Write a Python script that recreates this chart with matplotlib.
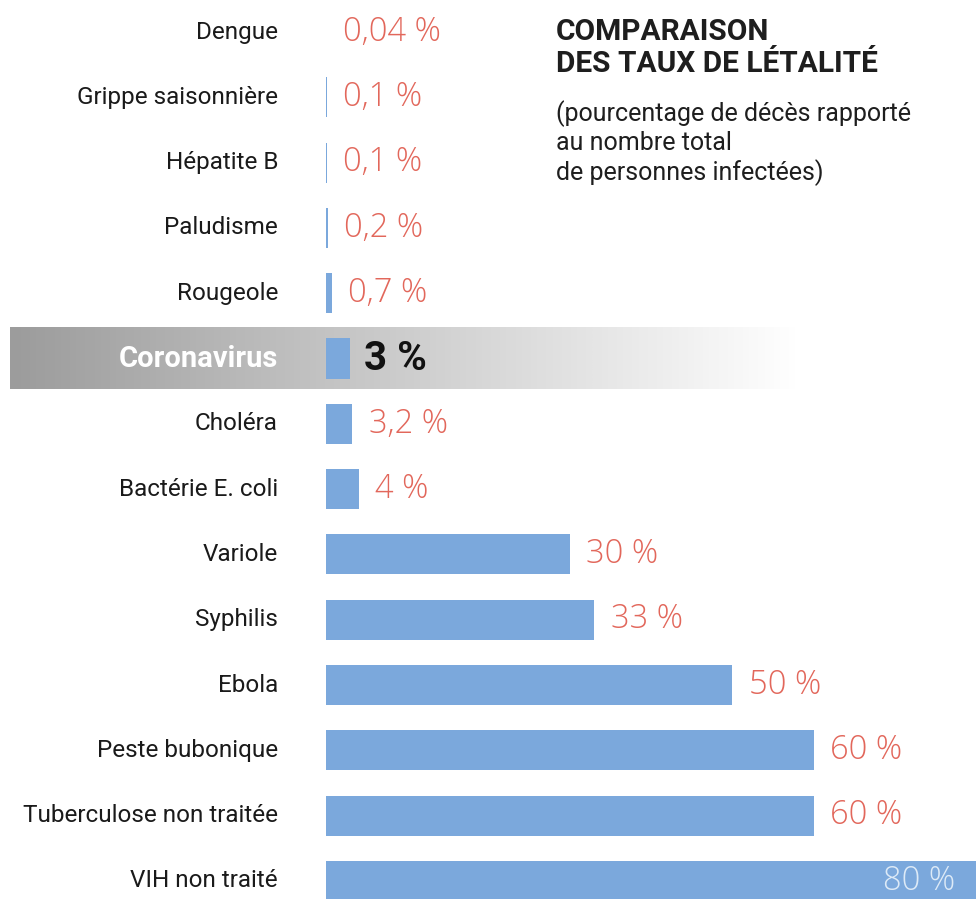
import numpy as np
import matplotlib.pyplot as plt
from matplotlib import font_manager
import matplotlib.transforms as mtransforms
from matplotlib.colors import LinearSegmentedColormap

# --- data ---
maladies = ["Dengue", "Grippe saisonnière", "Hépatite B", "Paludisme", "Rougeole",
            "Coronavirus", "Choléra", "Bactérie E. coli", "Variole", "Syphilis",
            "Ebola", "Peste bubonique", "Tuberculose non traitée", "VIH non traité"]
taux = [0.04, 0.1, 0.1, 0.2, 0.7, 3, 3.2, 4, 30, 33, 50, 60, 60, 80]
etiquettes = ["0,04 %", "0,1 %", "0,1 %", "0,2 %", "0,7 %", "3 %", "3,2 %", "4 %",
              "30 %", "33 %", "50 %", "60 %", "60 %", "80 %"]
highlight = "Coronavirus"

titre = "COMPARAISON\nDES TAUX DE LÉTALITÉ"
sous_titre = "(pourcentage de décès rapporté\nau nombre total\nde personnes infectées)"

# fonts
installed = {f.name for f in font_manager.fontManager.ttflist}
def pick(cands):
    for c in cands:
        if c in installed:
            return c
    return "DejaVu Sans"
sans = pick(["Roboto", "Noto Sans", "DejaVu Sans"])
light = pick(["Open Sans", "Lato", "Noto Sans", "DejaVu Sans"])

bar_col = "#7ba8dc"
val_col = "#e2675b"

fig = plt.figure(figsize=(9.76, 8.99), dpi=100)
ax = fig.add_axes([0, 0, 1, 1])

# x: 0 % at pixel 326, 80 % at 976
px_per = 650 / 80
row = 65.3
y = np.arange(len(maladies))

# highlighted band with gradient
hi = maladies.index(highlight)
grad = np.linspace(0, 1, 256)[None, :]
cmap = LinearSegmentedColormap.from_list("band", ["#9c9c9c", "#cdcdcd", "#ffffff"])
x0 = -316 / px_per
x1 = (800 - 326) / px_per
ax.imshow(grad, cmap=cmap, aspect="auto", extent=[x0, x1, hi + 0.47, hi - 0.47],
          zorder=0, interpolation="bicubic")
ax.set_xlim(-326 / px_per, 80)
ax.set_ylim((899 - 32) / row, -32 / row)
ax.axis("off")

ax.barh(y, taux, height=0.615, color=bar_col, zorder=2)

# category labels (right aligned at pixel ~278)
trans = mtransforms.blended_transform_factory(fig.transFigure, ax.transData)
for i, name in enumerate(maladies):
    if name == highlight:
        ax.text(278 / 976, i, name, transform=trans, ha="right", va="center",
                fontsize=21, color="white", fontweight="bold", family=sans)
    else:
        ax.text(278 / 976, i, name, transform=trans, ha="right", va="center",
                fontsize=17.5, color="#1a1a1a", family=sans)

# value labels
for i, (v, lab) in enumerate(zip(taux, etiquettes)):
    if maladies[i] == highlight:
        ax.annotate(lab, (v, i), xytext=(10, 0), textcoords="offset points",
                    ha="left", va="center", fontsize=29, fontweight="bold",
                    color="#111111", family=sans)
    elif v >= 75:
        ax.annotate(lab, (v, i), xytext=(-15, 0), textcoords="offset points",
                    ha="right", va="center", fontsize=23.5, color="#ddeaf7",
                    family=light, fontweight="light")
    else:
        ax.annotate(lab, (v, i), xytext=(12, 0), textcoords="offset points",
                    ha="left", va="center", fontsize=23.5, color=val_col,
                    family=light, fontweight="light")

# title
fig.text(556 / 976, 1 - 18 / 899, titre, ha="left", va="top", fontsize=21.5,
         fontweight="bold", color="#1e1e1e", family=sans, linespacing=1.2)
fig.text(556 / 976, 1 - 100 / 899, sous_titre, ha="left", va="top", fontsize=18,
         color="#1e1e1e", family=sans, linespacing=1.2)

fig.savefig("out.png", dpi=100)
